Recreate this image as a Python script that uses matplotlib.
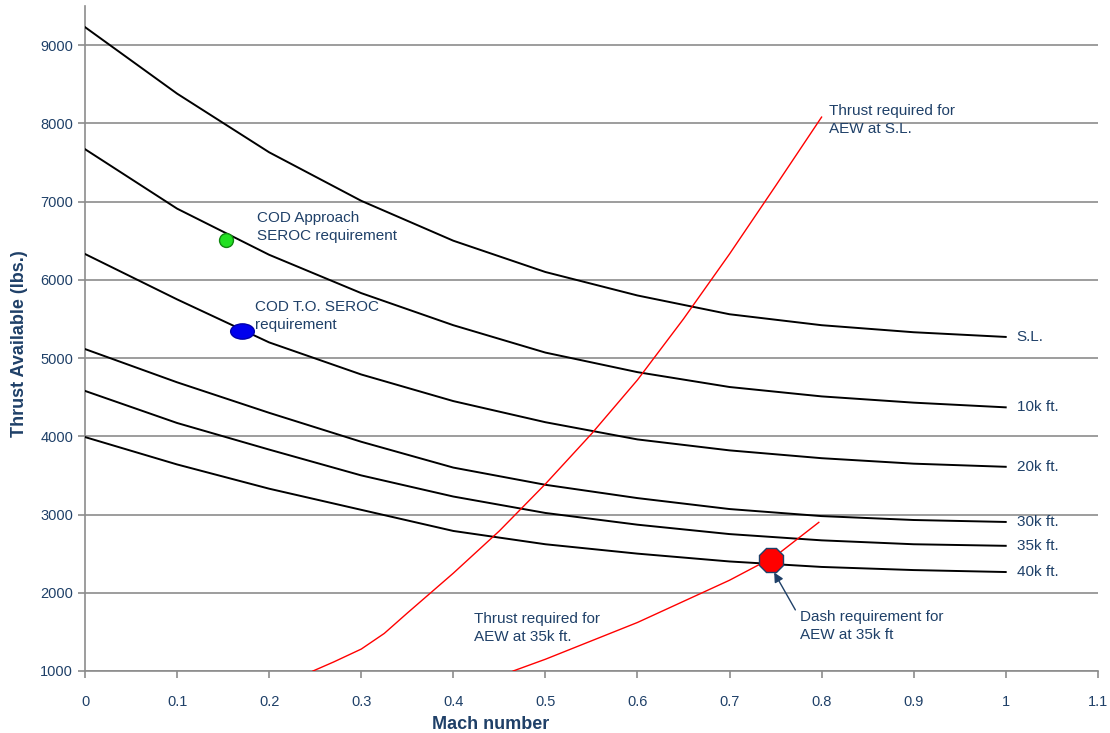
import matplotlib
matplotlib.use("Agg")
import matplotlib.pyplot as plt
from matplotlib.markers import MarkerStyle
from matplotlib.transforms import Affine2D

# thrust available curves (lbs.) at Mach 0.0 .. 1.0
mach = [0.0, 0.1, 0.2, 0.3, 0.4, 0.5, 0.6, 0.7, 0.8, 0.9, 1.0]
thrust_sl = [9230, 8380, 7630, 7010, 6500, 6100, 5800, 5560, 5420, 5330, 5270]
thrust_10k = [7670, 6910, 6320, 5830, 5420, 5070, 4820, 4630, 4510, 4430, 4370]
thrust_20k = [6330, 5750, 5200, 4790, 4450, 4180, 3960, 3820, 3720, 3650, 3610]
thrust_30k = [5115, 4690, 4300, 3930, 3600, 3380, 3210, 3070, 2980, 2930, 2905]
thrust_35k = [4580, 4170, 3830, 3500, 3230, 3020, 2870, 2750, 2670, 2620, 2600]
thrust_40k = [3990, 3640, 3330, 3060, 2790, 2620, 2500, 2400, 2330, 2290, 2265]
alt_labels = ["S.L.", "10k ft.", "20k ft.", "30k ft.", "35k ft.", "40k ft."]

# thrust required for AEW
req_sl_mach = [0.2476, 0.27, 0.3, 0.325, 0.35, 0.4, 0.45, 0.5, 0.55, 0.6, 0.65, 0.7, 0.75, 0.8]
req_sl = [1000, 1115, 1280, 1480, 1740, 2250, 2790, 3390, 4030, 4720, 5500, 6330, 7200, 8080]
req_35k_mach = [0.465, 0.5, 0.55, 0.6, 0.65, 0.7, 0.75, 0.797]
req_35k = [1000, 1150, 1385, 1620, 1890, 2160, 2470, 2900]

# requirement points
cod_approach = (0.153, 6510)
cod_to = (0.170, 5345)
dash_35k = (0.745, 2420)

txt = "#1f4068"
plt.rcParams["font.family"] = ["Liberation Sans", "DejaVu Sans"]

fig = plt.figure(figsize=(11.1, 7.33), dpi=100)
ax = fig.add_axes([0.0766, 0.0846, 0.9124, 0.9072])

curves = [thrust_sl, thrust_10k, thrust_20k, thrust_30k, thrust_35k, thrust_40k]
for c, lab in zip(curves, alt_labels):
    ax.plot(mach, c, color="black", lw=1.4, zorder=3)
    ax.text(1.012, c[-1], lab, color=txt, fontsize=11, va="center", ha="left")

ax.plot(req_sl_mach, req_sl, color="red", lw=1.0, zorder=3)
ax.plot(req_35k_mach, req_35k, color="red", lw=1.0, zorder=3)

ax.plot(*cod_approach, "o", ms=10, color="#22e022", mec="#118811", mew=1, zorder=5)
wide = MarkerStyle("o", transform=Affine2D().scale(1.55, 1.0))
ax.plot(*cod_to, marker=wide, ms=11, color="#0000ee", mec="#0000aa", mew=1,
        ls="none", zorder=5)
ax.plot(*dash_35k, "8", ms=19, color="red", mec="#1f4068", mew=1, zorder=5)

notes = [
    (0.808, 8250, "Thrust required for\nAEW at S.L."),
    (0.187, 6880, "COD Approach\nSEROC requirement"),
    (0.185, 5740, "COD T.O. SEROC\nrequirement"),
    (0.423, 1760, "Thrust required for\nAEW at 35k ft."),
    (0.777, 1780, "Dash requirement for\nAEW at 35k ft"),
]
for x, y, s in notes:
    ax.text(x, y, s, color=txt, fontsize=11, va="top", linespacing=1.38)
ax.annotate("", xy=(0.747, 2290), xytext=(0.773, 1750),
            arrowprops=dict(arrowstyle="-|>", color=txt, lw=1.0,
                            mutation_scale=14), zorder=6)

ax.set_xlim(0, 1.1)
ax.set_ylim(1000, 9500)
ax.set_xticks([0, 0.1, 0.2, 0.3, 0.4, 0.5, 0.6, 0.7, 0.8, 0.9, 1.0, 1.1])
ax.set_xticklabels(["0", "0.1", "0.2", "0.3", "0.4", "0.5", "0.6", "0.7",
                    "0.8", "0.9", "1", "1.1"])
ax.set_yticks(range(1000, 9001, 1000))
ax.grid(axis="y", color="#8c8c8c", lw=1.2)
ax.set_axisbelow(True)
for s in ["top", "right"]:
    ax.spines[s].set_visible(False)
for s in ["left", "bottom"]:
    ax.spines[s].set_color("#8c8c8c")
    ax.spines[s].set_linewidth(1.2)
ax.tick_params(colors="#8c8c8c", labelcolor=txt, labelsize=10.5, length=5, width=1.2)
ax.tick_params(axis="x", pad=12)

ax.set_xlabel("Mach number", color=txt, fontsize=13, fontweight="bold")
ax.xaxis.set_label_coords(0.40, -0.067)
ax.set_ylabel("Thrust Available (lbs.)", color=txt, fontsize=13, fontweight="bold")
ax.yaxis.set_label_coords(-0.056, 0.493)

fig.savefig("out.png", dpi=100)
